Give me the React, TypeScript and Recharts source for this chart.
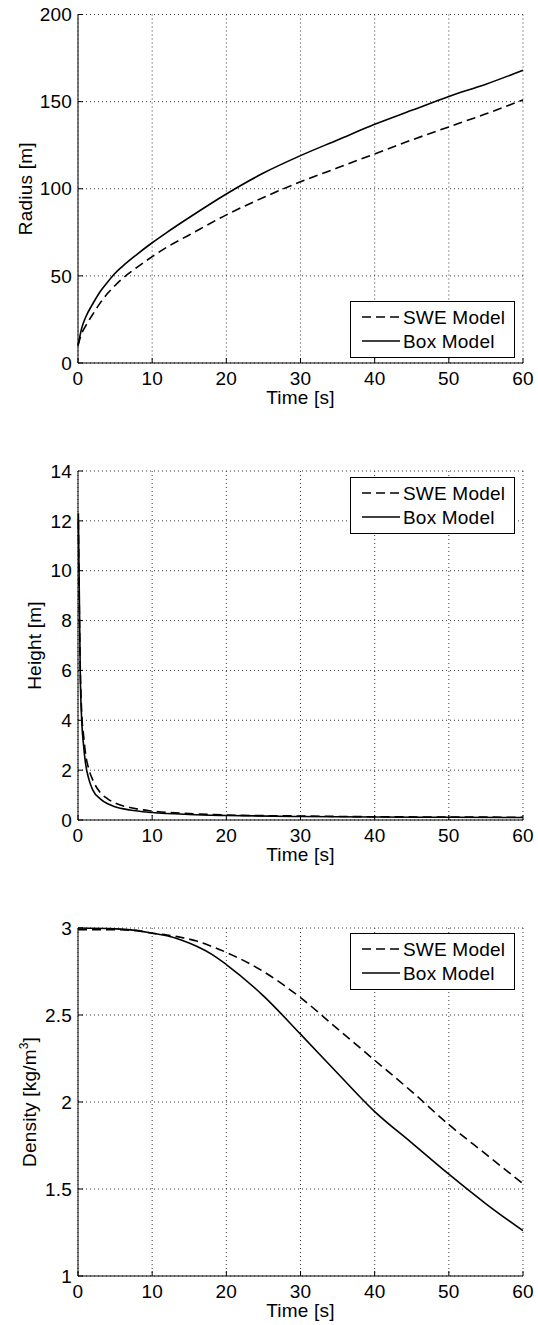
import React from 'react';
import { LineChart, Line, XAxis, YAxis, CartesianGrid, Legend } from 'recharts';

const FONT = '"Liberation Sans", Arial, Helvetica, sans-serif';
const FS = 19;
const LS = 0.2;

// ---------- data ----------
const timeTicks = [0, 10, 20, 30, 40, 50, 60];

const radiusTime = [0, 0.5, 1, 2, 3, 4, 5, 6, 8, 10, 12, 15, 20, 25, 30, 35, 40, 45, 50, 55, 60];
const radiusSwe = [10, 17, 21, 28, 34.5, 40, 44.5, 48.5, 55, 61, 66.5, 73.5, 85, 95, 104, 112, 120, 128, 135.5, 143, 151];
const radiusBox = [10, 20, 26, 34, 41, 46.5, 51.5, 55.5, 62.5, 69, 75, 83.5, 97, 109, 119, 128, 137, 145, 153, 160, 168];
const radiusTicks = [0, 50, 100, 150, 200];

const heightTime = [0.05, 0.1, 0.2, 0.3, 0.5, 0.75, 1, 1.5, 2, 3, 4, 5, 7, 10, 15, 20, 30, 40, 50, 60];
const heightSwe = [12.0, 10.5, 8.0, 6.2, 4.3, 3.4, 2.7, 2.0, 1.6, 1.1, 0.85, 0.68, 0.5, 0.36, 0.26, 0.2, 0.16, 0.13, 0.12, 0.11];
const heightBox = [12.3, 11.0, 8.5, 6.0, 4.0, 3.0, 2.3, 1.6, 1.2, 0.85, 0.65, 0.53, 0.4, 0.3, 0.22, 0.18, 0.14, 0.12, 0.11, 0.1];
const heightTicks = [0, 2, 4, 6, 8, 10, 12, 14];

const densityTime = [0, 5, 8, 10, 12, 14, 16, 18, 20, 25, 30, 35, 40, 45, 50, 55, 60];
const densitySwe = [2.99, 2.99, 2.985, 2.97, 2.96, 2.945, 2.925, 2.895, 2.86, 2.75, 2.6, 2.42, 2.24, 2.06, 1.87, 1.7, 1.53];
const densityBox = [3.0, 2.995, 2.985, 2.97, 2.955, 2.93, 2.895, 2.85, 2.79, 2.61, 2.39, 2.165, 1.945, 1.765, 1.585, 1.415, 1.26];
const densityTicks = [1, 1.5, 2, 2.5, 3];

const seriesNames = ['SWE Model', 'Box Model'];

const build = (t: number[], swe: number[], box: number[]) =>
  t.map((v, i) => ({ t: v, swe: swe[i], box: box[i] }));

const radiusData = build(radiusTime, radiusSwe, radiusBox);
const heightData = build(heightTime, heightSwe, heightBox);
const densityData = build(densityTime, densitySwe, densityBox);

// ---------- layout constants ----------
const W = 538;
const PLOT_LEFT = 78;
const PLOT_RIGHT = 523;
const X_AXIS_H = 43;
const X_TICK_GAP = 9;
const Y_TICK_GAP = 6;
const TICK_LEN = 5;
const DASH = '9 5';
const LINE_W = 1.6;

const txt = { fontFamily: FONT, fontSize: FS, fill: '#000', letterSpacing: LS } as const;

const BottomTick = (p: any) => (
  <g>
    <line x1={p.x} x2={p.x} y1={p.y - X_TICK_GAP} y2={p.y - X_TICK_GAP - TICK_LEN} stroke="#000" />
    <text x={p.x} y={p.y} dy="0.71em" textAnchor="middle" {...txt}>
      {p.payload.value}
    </text>
  </g>
);

const TopTick = (p: any) => (
  <line x1={p.x} x2={p.x} y1={p.y} y2={p.y + TICK_LEN} stroke="#000" />
);

const LeftTick = (p: any) => (
  <g>
    <line x1={p.x + Y_TICK_GAP} x2={p.x + Y_TICK_GAP + TICK_LEN} y1={p.y} y2={p.y} stroke="#000" />
    <text x={p.x} y={p.y} dy="0.355em" textAnchor="end" {...txt}>
      {p.payload.value}
    </text>
  </g>
);

const RightTick = (p: any) => (
  <line x1={p.x} x2={p.x - TICK_LEN} y1={p.y} y2={p.y} stroke="#000" />
);

const LegendBox = (props: any) => {
  const payload: any[] = (props && props.payload) || [];
  const rows = seriesNames.map((n) => {
    const e = payload.find((p) => p.value === n);
    return { value: n, dash: e && e.payload ? e.payload.strokeDasharray : n === seriesNames[0] ? DASH : undefined };
  });
  return (
    <svg width={165} height={57} style={{ display: 'block' }}>
      <rect x={0.5} y={0.5} width={164} height={56} fill="#fff" stroke="#000" />
      {rows.map((e, i) => {
        const cy = 16 + i * 24;
        return (
          <g key={i}>
            <line x1={12} x2={50} y1={cy} y2={cy} stroke="#000" strokeWidth={LINE_W} strokeDasharray={e.dash} />
            <text x={53} y={cy} dy="0.355em" {...txt}>{e.value}</text>
          </g>
        );
      })}
    </svg>
  );
};

type PanelProps = {
  top: number;
  height: number;
  mTop: number;
  plotH: number;
  data: any[];
  yTicks: number[];
  yDomain: [number, number];
  yLabel: React.ReactNode;
  yLabelX: number;
  legendTop: number;
};

function Panel({ top, height, mTop, plotH, data, yTicks, yDomain, yLabel, yLabelX, legendTop }: PanelProps) {
  const mBottom = height - mTop - plotH - X_AXIS_H;
  const yCenter = mTop + plotH / 2;
  const xCenter = (PLOT_LEFT + PLOT_RIGHT) / 2;
  return (
    <div style={{ position: 'absolute', top, left: 0 }}>
      <LineChart
        width={W}
        height={height}
        data={data}
        margin={{ top: mTop, right: W - PLOT_RIGHT, bottom: mBottom, left: PLOT_LEFT - 60 }}
      >
        <CartesianGrid stroke="#3a3a3a" strokeDasharray="1 3" />
        <XAxis
          dataKey="t"
          type="number"
          domain={[0, 60]}
          ticks={timeTicks}
          interval={0}
          height={X_AXIS_H}
          tickSize={0}
          tickMargin={X_TICK_GAP}
          tickLine={false}
          tick={BottomTick}
          axisLine={{ stroke: '#000' }}
          label={{
            content: () => (
              <text x={xCenter} y={mTop + plotH + X_AXIS_H - 2} textAnchor="middle" {...txt}>
                Time [s]
              </text>
            ),
          }}
        />
        <XAxis
          xAxisId="top"
          orientation="top"
          dataKey="t"
          type="number"
          domain={[0, 60]}
          ticks={timeTicks}
          interval={0}
          height={0}
          tickSize={0}
          tickMargin={0}
          tickLine={false}
          tick={TopTick}
          axisLine={{ stroke: '#000' }}
        />
        <YAxis
          type="number"
          domain={yDomain}
          ticks={yTicks}
          interval={0}
          width={60}
          tickSize={0}
          tickMargin={Y_TICK_GAP}
          tickLine={false}
          tick={LeftTick}
          axisLine={{ stroke: '#000' }}
          label={{
            content: () => (
              <text
                x={yLabelX}
                y={yCenter}
                transform={`rotate(-90, ${yLabelX}, ${yCenter})`}
                textAnchor="middle"
                dy="0.355em"
                {...txt}
              >
                {yLabel}
              </text>
            ),
          }}
        />
        <YAxis
          yAxisId="right"
          orientation="right"
          type="number"
          domain={yDomain}
          ticks={yTicks}
          interval={0}
          width={0}
          tickSize={0}
          tickMargin={0}
          tickLine={false}
          tick={RightTick}
          axisLine={{ stroke: '#000' }}
        />
        <Line
          dataKey="swe"
          name={seriesNames[0]}
          type="monotone"
          stroke="#000"
          strokeWidth={LINE_W}
          strokeDasharray={DASH}
          dot={false}
          activeDot={false}
          isAnimationActive={false}
        />
        <Line
          dataKey="box"
          name={seriesNames[1]}
          type="monotone"
          stroke="#000"
          strokeWidth={LINE_W}
          dot={false}
          activeDot={false}
          isAnimationActive={false}
        />
        <Legend
          layout="vertical"
          align="center"
          verticalAlign="middle"
          content={LegendBox}
          wrapperStyle={{ position: 'absolute', left: 350, top: legendTop, width: 165, height: 57 }}
        />
      </LineChart>
    </div>
  );
}

export default function App() {
  return (
    <div style={{ position: 'absolute', top: 0, left: 0, width: W, height: 1325, background: '#fff', fontFamily: FONT }}>
      <Panel
        top={0}
        height={420}
        mTop={14.5}
        plotH={348.5}
        data={radiusData}
        yTicks={radiusTicks}
        yDomain={[0, 200]}
        yLabel="Radius [m]"
        yLabelX={25}
        legendTop={301}
      />
      <Panel
        top={420}
        height={460}
        mTop={51}
        plotH={349}
        data={heightData}
        yTicks={heightTicks}
        yDomain={[0, 14]}
        yLabel="Height [m]"
        yLabelX={34}
        legendTop={57}
      />
      <Panel
        top={880}
        height={445}
        mTop={48}
        plotH={348}
        data={densityData}
        yTicks={densityTicks}
        yDomain={[1, 3]}
        yLabel={
          <>
            <tspan>Density [kg/m</tspan>
            <tspan dy="-8" fontSize={12}>3</tspan>
            <tspan dy="8">]</tspan>
          </>
        }
        yLabelX={29}
        legendTop={53}
      />
    </div>
  );
}
